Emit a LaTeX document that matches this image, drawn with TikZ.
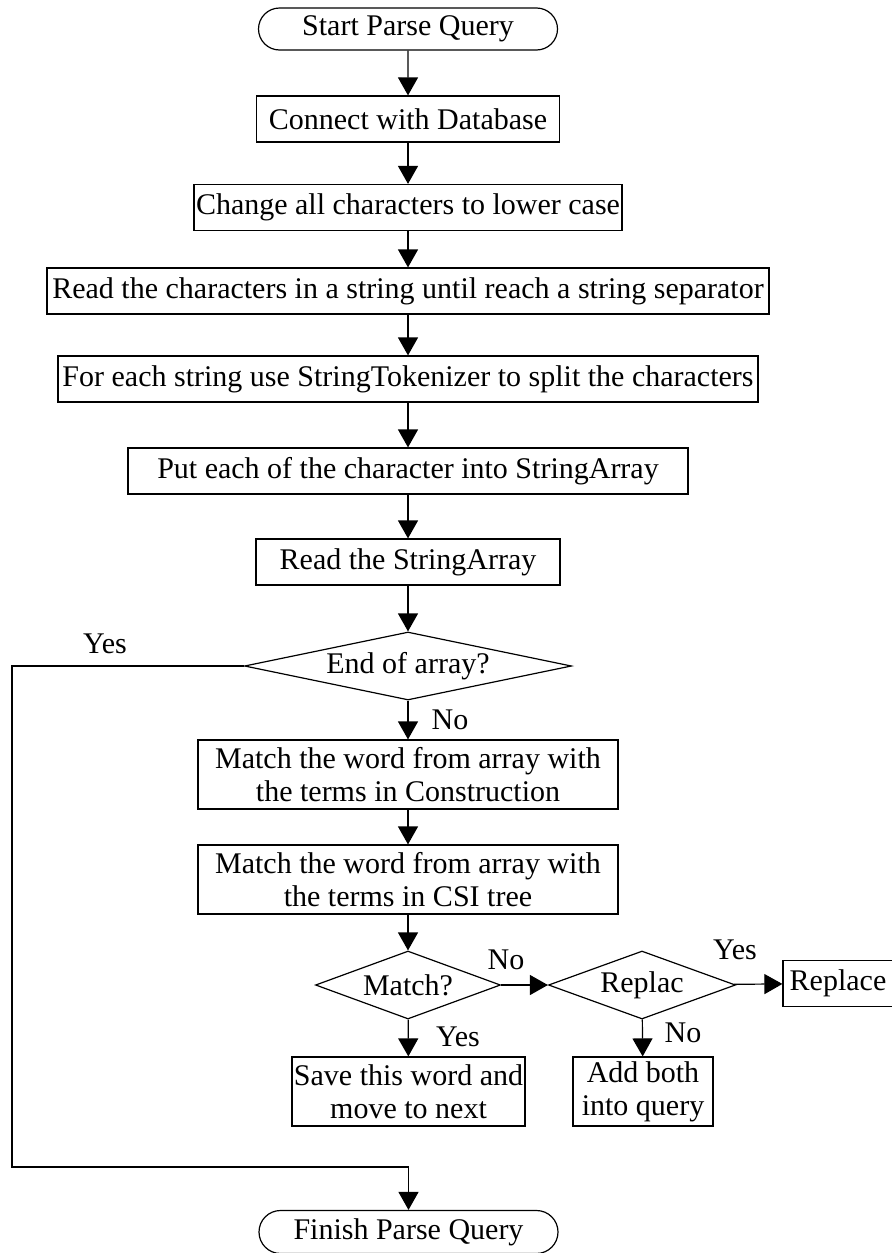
\documentclass[tikz,border=0pt]{standalone}
\usepackage{fontspec}
\setmainfont{Liberation Serif}
\usetikzlibrary{shapes.geometric,shapes.misc,arrows.meta}

\begin{document}
\begin{tikzpicture}[x=0.5pt,y=-0.5pt,font=\fontsize{15}{16.5}\selectfont,line width=0.6pt]
  \tikzstyle{terminal}=[draw,rounded rectangle,minimum width=151.5pt,minimum height=21pt,inner sep=1pt]
  \tikzstyle{process}=[draw,rectangle,minimum height=23pt,inner sep=1pt,align=center]
  \tikzstyle{decision}=[draw,diamond,minimum height=34pt,inner sep=1pt]
  \tikzstyle{answer}=[inner sep=0pt]
  \tikzstyle{flow}=[draw,-{Triangle[length=9pt,width=10pt]}]
  \useasboundingbox[fill=white] (0,0) rectangle (892,1253);

  \node[terminal] (start) at (408,29) {Start Parse Query};
  \node[process,minimum width=151.5pt] (connect) at (408,119) {Connect with Database};
  \node[process,minimum width=210pt] (lower) at (408,207.5) {Change all characters to lower case};
  \node[process,minimum width=361pt] (readstr) at (408,291) {Read the characters in a string until reach a string separator};
  \node[process,minimum width=350pt] (tokenize) at (408,379) {For each string use StringTokenizer to split the characters};
  \node[process,minimum width=280pt] (putarr) at (408,471) {Put each of the character into StringArray};
  \node[process,minimum width=152pt] (readarr) at (408,562) {Read the StringArray};
  \node[decision,aspect=4.8,minimum width=163.5pt] (endarr) at (408,666) {End of array?};

  \node[process,minimum width=210pt,minimum height=34.5pt] (matchcon) at (408,774.5) {Match the word from array with\\the terms in Construction};
  \node[process,minimum width=210pt,minimum height=34.5pt] (matchcsi) at (408,879.5) {Match the word from array with\\the terms in CSI tree};
  \node[decision,aspect=2.7,minimum width=92.5pt] (match) at (408,985) {Match?};
  \node[decision,aspect=2.7,minimum width=93.5pt] (replac) at (642,985) {Replac};
  \node[process,minimum width=55pt] (replace) at (838,983.5) {Replace};
  \node[process,minimum width=116.5pt,minimum height=34.5pt] (save) at (408.5,1091.5) {Save this word and\\move to next};
  \node[process,minimum width=70pt,minimum height=34.5pt] (add) at (643,1091.5) {Add both\\into query};
  \node[terminal,minimum height=21.5pt] (finish) at (408.5,1232) {Finish Parse Query};

  % yes/no answers
  \node[answer] (yesend) at (105,644) {Yes};
  \node[answer] (noend) at (450,720) {No};
  \node[answer] (nomatch) at (506,960) {No};
  \node[answer] (yesmatch) at (458,1037) {Yes};
  \node[answer] (yesrep) at (735,950) {Yes};
  \node[answer] (norep) at (683,1033) {No};

  % main column
  \path[flow] (start) -- (connect);
  \path[flow] (connect) -- (lower);
  \path[flow] (lower) -- (readstr);
  \path[flow] (readstr) -- (tokenize);
  \path[flow] (tokenize) -- (putarr);
  \path[flow] (putarr) -- (readarr);
  \path[flow] (readarr) -- (endarr);
  \path[flow] (endarr) -- (matchcon);
  \path[flow] (matchcon) -- (matchcsi);
  \path[flow] (matchcsi) -- (match);
  \path[flow] (match) -- (save);
  \path[flow] (match) -- (replac);
  \path[flow] (replac) -- (replace);
  \path[flow] (replac) -- (add);

  % loop back to the end
  \coordinate (loopcorner) at (12,1167);
  \path[flow] (endarr.west) -| (loopcorner) -| (finish.north);
\end{tikzpicture}
\end{document}
